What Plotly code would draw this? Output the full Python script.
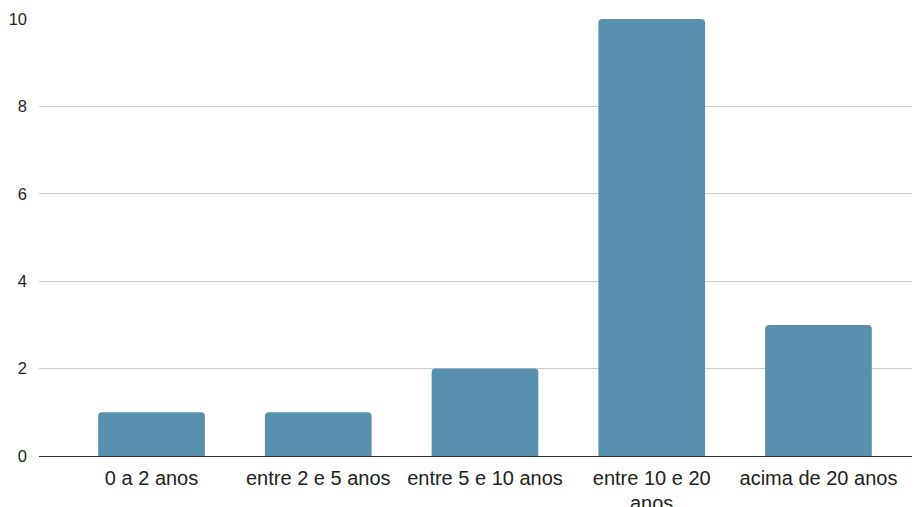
import plotly.graph_objects as go

categories = ["0 a 2 anos", "entre 2 e 5 anos", "entre 5 e 10 anos", "entre 10 e 20", "acima de 20 anos"]
wrapped_part = {3: "anos"}  # second line of the wrapped category label
values = [1, 1, 2, 10, 3]
y_ticks = [0, 2, 4, 6, 8, 10]

fig = go.Figure(go.Bar(
    x=list(range(len(categories))), y=values,
    marker=dict(color="#5891AD", cornerradius=4, line=dict(width=0)),
    width=0.64,
))
for xi, txt in wrapped_part.items():
    fig.add_annotation(x=xi, xref="x", y=0, yref="paper", yanchor="top", yshift=-34,
                       text=txt, showarrow=False, font=dict(size=20, color="#222222"))
fig.update_layout(
    width=920, height=507,
    margin=dict(l=31, r=8, t=11, b=59, pad=0),
    paper_bgcolor="white", plot_bgcolor="white",
    font=dict(family="Liberation Sans, Arial, sans-serif", size=17, color="#222222"),
    showlegend=False,
    xaxis=dict(range=[-0.675, 4.609], tickmode="array", tickvals=list(range(len(categories))),
               ticktext=categories, showgrid=False, zeroline=False, showline=False, automargin=False,
               ticks="", ticklabelstandoff=8, tickfont=dict(size=20, color="#222222")),
    yaxis=dict(range=[0, 10], tickvals=y_ticks, showgrid=True, gridcolor="#cccccc", gridwidth=1,
               zeroline=True, zerolinecolor="#333333", zerolinewidth=1.3, ticks="", automargin=False,
               ticklabelstandoff=11, tickfont=dict(size=16.5, color="#222222")),
)
fig.write_html("out.html")
